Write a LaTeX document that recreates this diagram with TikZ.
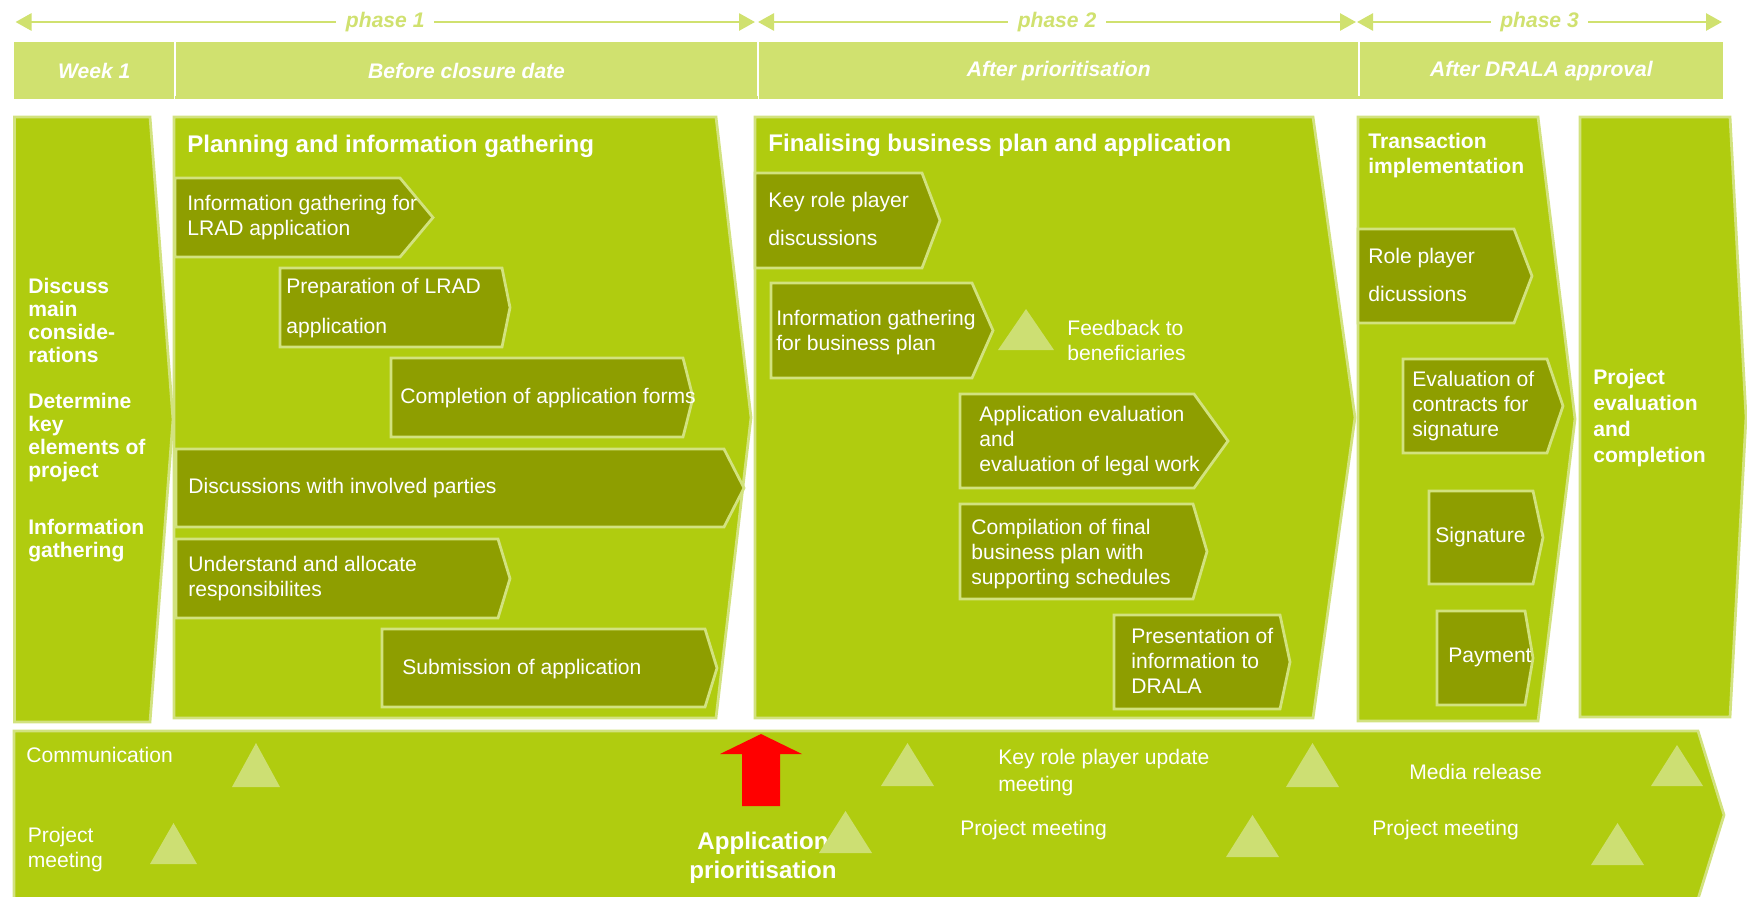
\documentclass[tikz,border=0pt]{standalone}
\usepackage{fontspec}
\setmainfont{Liberation Sans}
\usepackage{tikz}
\usetikzlibrary{arrows.meta}
\definecolor{barGreen}{HTML}{D0E16F}
\definecolor{mainGreen}{HTML}{B0CC0F}
\definecolor{taskOlive}{HTML}{8E9E00}
\definecolor{edgeGreen}{HTML}{D2E27F}
\definecolor{markGreen}{HTML}{CDDF73}
\newcommand{\bodyfont}{\fontsize{12}{14.2}\selectfont}
\newcommand{\chev}[6][task]{\path[#1] (#2,#3) -- (#4,#3) -- (#6,{0.5*(#3)+0.5*(#5)}) -- (#4,#5) -- (#2,#5) -- cycle;}

\begin{document}
\begin{tikzpicture}[
  phase/.style={fill=mainGreen, draw=edgeGreen, line width=0.55mm},
  task/.style={fill=taskOlive, draw=edgeGreen, line width=0.55mm},
  milestone/.style={fill=markGreen},
  hdr/.style={fill=barGreen, text=white, font=\bodyfont\bfseries\itshape,
              minimum height=11.4mm, inner sep=0pt, anchor=north west},
  phasearrow/.style={draw=barGreen, line width=0.55mm,
                     {Triangle[length=3.2mm,width=3.4mm]}-{Triangle[length=3.2mm,width=3.4mm]}},
  phaselbl/.style={fill=white, text=barGreen, font=\bodyfont\bfseries\itshape,
                   inner xsep=1.9mm, inner ysep=0.5mm},
  txt/.style={text=white, anchor=west, align=left, inner sep=0pt, font=\bodyfont},
  strong/.style={txt, font=\bodyfont\bfseries},
  heading/.style={txt, font=\fontsize{13.7}{16}\selectfont\bfseries}
]
\useasboundingbox (0,0) rectangle (34.94,-17.92);
\clip (0,0) rectangle (34.94,-17.92);

\coordinate (p1a) at (0.31,-0.44);
\coordinate (p1b) at (15.10,-0.44);
\coordinate (p2a) at (15.16,-0.44);
\coordinate (p2b) at (27.12,-0.44);
\coordinate (p3a) at (27.14,-0.44);
\coordinate (p3b) at (34.44,-0.44);
\draw[phasearrow] (p1a) -- node[phaselbl] (ph1) {phase 1} (p1b);
\draw[phasearrow] (p2a) -- node[phaselbl] (ph2) {phase 2} (p2b);
\draw[phasearrow] (p3a) -- node[phaselbl] (ph3) {phase 3} (p3b);

\node[hdr, minimum width=3.20cm] (week) at (0.28,-0.84) {Week 1};
\node[hdr, minimum width=11.66cm] (before) at (week.north east) {Before closure date};
\node[hdr, minimum width=12.00cm] (after) at (before.north east) {After prioritisation};
\node[hdr, minimum width=7.28cm] (drala) at (after.north east) {After DRALA approval};
\foreach \c in {week,before,after}
  \draw[white, line width=0.4mm] (\c.north east) -- ([yshift=0.8mm]\c.south east);

\chev[phase]{0.29}{-2.34}{3.00}{-14.44}{3.46}
\chev[phase]{3.48}{-2.34}{14.32}{-14.36}{15.02}
\chev[phase]{15.10}{-2.34}{26.26}{-14.36}{27.10}
\chev[phase]{27.16}{-2.34}{30.76}{-14.42}{31.50}
\chev[phase]{31.60}{-2.34}{34.60}{-14.34}{34.92}
\chev[phase]{0.28}{-14.62}{33.96}{-17.98}{34.48}

\chev{3.50}{-3.56}{8.00}{-5.14}{8.66}
\chev{5.60}{-5.36}{10.04}{-6.94}{10.20}
\chev{7.82}{-7.16}{13.66}{-8.74}{13.86}
\chev{3.52}{-8.98}{14.48}{-10.54}{14.88}
\chev{3.52}{-10.78}{9.96}{-12.36}{10.20}
\chev{7.64}{-12.58}{14.10}{-14.14}{14.34}

\chev{15.10}{-3.46}{18.44}{-5.36}{18.80}
\chev{15.42}{-5.66}{19.44}{-7.56}{19.86}
\chev{19.20}{-7.88}{23.88}{-9.76}{24.56}
\chev{19.20}{-10.08}{23.86}{-11.98}{24.14}
\chev{22.28}{-12.30}{25.60}{-14.18}{25.80}

\chev{27.16}{-4.58}{30.28}{-6.46}{30.64}
\chev{28.06}{-7.18}{30.94}{-9.06}{31.26}
\chev{28.58}{-9.82}{30.66}{-11.68}{30.86}
\chev{28.74}{-12.22}{30.50}{-14.10}{30.66}

\node[strong, font=\fontsize{12}{13.1}\selectfont\bfseries] (kickoff) at (0.56,-8.40)
  {Discuss\\main\\conside-\\rations\\[4.6mm]Determine\\key\\elements of\\project\\[6.8mm]Information\\gathering};

\node[heading] (plan) at (3.74,-2.92) {Planning and information gathering};
\node[txt] (lrad) at (3.74,-4.36) {Information gathering for\\LRAD application};
\node[txt] (prep) at (5.72,-6.16) {Preparation of LRAD\\[3mm]application};
\node[txt] (forms) at (8.00,-7.96) {Completion of application forms};
\node[txt] (parties) at (3.76,-9.76) {Discussions with involved parties};
\node[txt] (resp) at (3.76,-11.57) {Understand and allocate\\responsibilites};
\node[txt] (submit) at (8.04,-13.38) {Submission of application};

\node[heading] (final) at (15.36,-2.90) {Finalising business plan and application};
\node[txt] (keyrole) at (15.36,-4.38) {Key role player\\[2.6mm]discussions};
\node[txt] (bplan) at (15.52,-6.66) {Information gathering\\for business plan};
\node[txt] (feedback) at (21.34,-6.80) {Feedback to\\beneficiaries};
\node[txt] (legal) at (19.58,-8.82) {Application evaluation\\and\\evaluation of legal work};
\node[txt] (compile) at (19.42,-11.08) {Compilation of final\\business plan with\\supporting schedules};
\node[txt] (present) at (22.62,-13.22) {Presentation of\\information to\\DRALA};

\node[strong] (trans) at (27.36,-3.11) {Transaction\\implementation};
\node[txt] (roles) at (27.36,-5.50) {Role player\\[2.6mm]dicussions};
\node[txt] (contracts) at (28.24,-8.12) {Evaluation of\\contracts for\\signature};
\node[txt] (sign) at (28.70,-10.74) {Signature};
\node[txt] (pay) at (28.96,-13.15) {Payment};

\node[strong, font=\fontsize{12}{14.8}\selectfont\bfseries] (done) at (31.86,-8.36)
  {Project\\evaluation\\and\\completion};

\node[txt] (comm) at (0.52,-15.10) {Communication};
\node[txt] (meet0) at (0.55,-17.00) {Project\\meeting};
\node[txt, font=\fontsize{12}{15.4}\selectfont] (update) at (19.96,-15.45) {Key role player update\\meeting};
\node[txt] (media) at (28.18,-15.44) {Media release};
\node[txt] (meet1) at (19.20,-16.60) {Project meeting};
\node[txt] (meet2) at (27.44,-16.60) {Project meeting};
\node[txt, anchor=center, align=center, font=\fontsize{13.7}{16.5}\selectfont\bfseries] (prio) at (15.26,-17.15)
  {Application\\prioritisation};

\path[fill=red] (15.22,-14.68) -- (16.04,-15.08) -- (15.60,-15.08) -- (15.60,-16.12)
  -- (14.84,-16.12) -- (14.84,-15.08) -- (14.40,-15.08) -- cycle;

\foreach \x/\y/\w/\h in {20.52/-7.00/1.12/0.82, 5.12/-15.74/0.96/0.88, 3.47/-17.28/0.94/0.82,
    16.91/-17.06/1.06/0.84, 18.15/-15.72/1.06/0.86, 26.25/-15.74/1.06/0.88,
    33.54/-15.72/1.04/0.82, 25.05/-17.14/1.06/0.84, 32.35/-17.30/1.06/0.84}
  \path[milestone] ({\x-\w/2},\y) -- ({\x+\w/2},\y) -- (\x,{\y+\h}) -- cycle;
\end{tikzpicture}
\end{document}
